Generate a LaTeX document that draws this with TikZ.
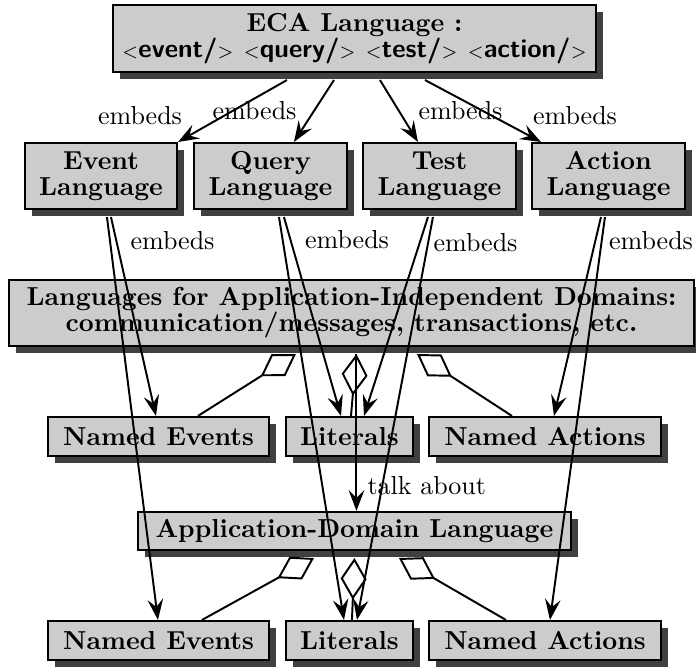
\documentclass[tikz,border=0pt]{standalone}
\usetikzlibrary{arrows.meta,shadows,calc}
\newdimen\pxu
\pxu=0.3846pt
\newcommand{\opn}{{\scriptsize$<$}}
\newcommand{\cls}{{\scriptsize$>$}}
\begin{document}
\begin{tikzpicture}[x=0.3846pt, y=-0.3846pt,
  box/.style={draw=black, line width=0.8pt, fill=black!20, inner sep=0pt,
    align=center, font=\fontsize{10}{10}\selectfont\bfseries,
    drop shadow={shadow xshift=7\pxu, shadow yshift=-7\pxu, fill=black!75, opacity=1}},
  twoline/.style={execute at begin node={\rule{0pt}{8.9pt}}},
  emb/.style={line width=0.75pt, -{Stealth[length=8pt,width=6pt,inset=3pt]}},
  agg/.style={line width=0.75pt, -{Diamond[open,length=16pt,width=10pt]}},
  lbl/.style={font=\fontsize{10}{12}\selectfont, inner sep=0pt, anchor=base}]
\useasboundingbox (0,0) rectangle (696,669);

% language boxes
\node[box, twoline, minimum width=483\pxu, minimum height=67\pxu] (eca) at (354.5,38.5)
  {ECA Language :\\ \opn\textsf{event/}\cls{} \opn\textsf{query/}\cls{} \opn\textsf{test/}\cls{} \opn\textsf{action/}\cls};
\node[box, twoline, minimum width=152\pxu, minimum height=66\pxu] (ev) at (101,176) {Event\\Language};
\node[box, twoline, minimum width=153\pxu, minimum height=66\pxu] (qu) at (270.5,176) {Query\\Language};
\node[box, twoline, minimum width=153\pxu, minimum height=66\pxu] (te) at (439.5,176) {Test\\Language};
\node[box, twoline, minimum width=153\pxu, minimum height=66\pxu] (ac) at (608.5,176) {Action\\Language};
\node[box, twoline, minimum width=685\pxu, minimum height=66\pxu] (mid) at (351.5,313)
  {Languages for Application-Independent Domains:\\communication/messages, transactions, etc.};
\node[box, minimum width=221\pxu, minimum height=39\pxu] (ne1) at (158.5,436.5) {Named Events};
\node[box, minimum width=127\pxu, minimum height=39\pxu] (li1) at (349.5,436.5) {Literals};
\node[box, minimum width=232\pxu, minimum height=39\pxu] (na1) at (545,436.5) {Named Actions};
\node[box, minimum width=433\pxu, minimum height=38\pxu] (app) at (354.5,531) {Application-Domain Language};
\node[box, minimum width=221\pxu, minimum height=39\pxu] (ne2) at (158.5,640.5) {Named Events};
\node[box, minimum width=127\pxu, minimum height=39\pxu] (li2) at (349.5,640.5) {Literals};
\node[box, minimum width=232\pxu, minimum height=39\pxu] (na2) at (545,640.5) {Named Actions};

% embeds: ECA language into the four sublanguages
\draw[emb] ($(eca.south west)+(175,7)$) -- (ev.north east);
\draw[emb] ($(eca.south west)+(222,7)$) -- ($(qu.north west)+(101,0)$);
\draw[emb] ($(eca.south west)+(268,7)$) -- ($(te.north west)+(56,0)$);
\draw[emb] ($(eca.south west)+(313,7)$) -- ($(ac.north west)+(10,0)$);

% embeds: sublanguages into the domain languages
\draw[emb] ($(ev.south west)+(87,7)$) -- ($(ne1.north west)+(109,0)$);
\draw[emb] ($(ev.south west)+(83,7)$) -- ($(ne2.north west)+(111,0)$);
\draw[emb] ($(qu.south west)+(91,7)$) -- ($(li1.north west)+(56,0)$);
\draw[emb] ($(qu.south west)+(86,7)$) -- ($(li2.north west)+(59,0)$);
\draw[emb] ($(te.south west)+(66,7)$) -- ($(li1.north west)+(79,0)$);
\draw[emb] ($(te.south west)+(71,7)$) -- ($(li2.north west)+(72,0)$);
\draw[emb] ($(ac.south west)+(70,7)$) -- ($(na1.north west)+(126,0)$);
\draw[emb] ($(ac.south west)+(74,7)$) -- ($(na2.north west)+(122,0)$);

% talk about
\draw[emb] ($(mid.south west)+(348.5,7)$) -- ($(app.north west)+(219.5,0)$);

% aggregations
\draw[agg] ($(ne1.north west)+(151,0)$) -- ($(mid.south west)+(288,7)$);
\draw[agg] ($(li1.north west)+(66,0)$) -- ($(mid.south west)+(348.5,7)$);
\draw[agg] ($(na1.north west)+(84,0)$) -- ($(mid.south west)+(409,7)$);
\draw[agg] ($(ne2.north west)+(155,0)$) -- ($(app.south west)+(177,7)$);
\draw[agg] ($(li2.north west)+(67,0)$) -- ($(app.south west)+(217.5,7)$);
\draw[agg] ($(na2.north west)+(78,0)$) -- ($(app.south west)+(262,7)$);

% connector labels
\node[lbl] (l1) at (140,125) {embeds};
\node[lbl] (l2) at (254.5,120) {embeds};
\node[lbl] (l3) at (460.5,120) {embeds};
\node[lbl] (l4) at (575,125) {embeds};
\node[lbl] (l5) at (172.5,250) {embeds};
\node[lbl] (l6) at (347,249) {embeds};
\node[lbl] (l7) at (475.5,252) {embeds};
\node[lbl] (l8) at (651,250) {embeds};
\node[lbl, anchor=base west] (l9) at (367,495) {talk about};
\end{tikzpicture}
\end{document}
